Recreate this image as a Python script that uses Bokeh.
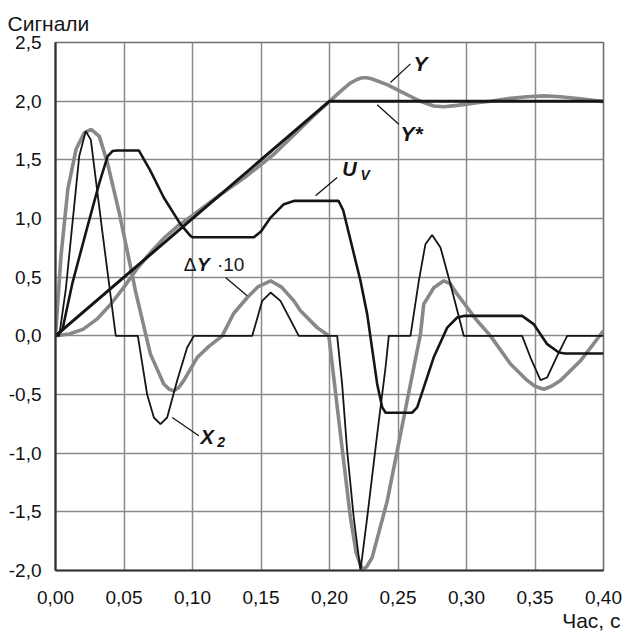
from bokeh.plotting import figure
from bokeh.models import Range1d, FixedTicker, Label, ColumnDataSource, Title
from bokeh.embed import file_html
from bokeh.resources import INLINE

# ---------------- data ----------------
x_ticks = [0.0, 0.05, 0.10, 0.15, 0.20, 0.25, 0.30, 0.35, 0.40]
x_tick_labels = ["0,00", "0,05", "0,10", "0,15", "0,20", "0,25", "0,30", "0,35", "0,40"]
y_ticks = [-2.0, -1.5, -1.0, -0.5, 0.0, 0.5, 1.0, 1.5, 2.0, 2.5]
y_tick_labels = ["-2,0", "-1,5", "-1,0", "-0,5", "0,0", "0,5", "1,0", "1,5", "2,0", "2,5"]

# reference signal Y*
t_ystar = [0.0, 0.2, 0.4]
v_ystar = [0.0, 2.0, 2.0]

# output Y
t_y = [0, 0.01, 0.02, 0.03, 0.04, 0.05, 0.06, 0.07, 0.08, 0.09, 0.10, 0.12, 0.14, 0.16,
       0.18, 0.19, 0.20, 0.208, 0.2153, 0.22, 0.2238, 0.2275, 0.2311, 0.2421, 0.2518, 0.2615,
       0.2664, 0.2761, 0.2834, 0.2932, 0.3078, 0.3175, 0.3321, 0.3443, 0.3564, 0.3686,
       0.3832, 0.40]
v_y = [0, 0.015, 0.055, 0.14, 0.265, 0.415, 0.58, 0.718, 0.842, 0.943, 1.026, 1.20, 1.367, 1.554,
       1.78, 1.893, 1.998, 2.084, 2.155, 2.185, 2.199, 2.2, 2.189, 2.141, 2.084, 2.027,
       1.999, 1.959, 1.953, 1.964, 1.987, 2.0, 2.024, 2.038, 2.045, 2.038,
       2.021, 1.996]

# error dY*10
t_dy = [0, 0.004, 0.009, 0.015, 0.021, 0.026, 0.032, 0.038, 0.0465, 0.056, 0.0584, 0.0693,
        0.079, 0.083, 0.0864, 0.09, 0.0937, 0.1034, 0.112, 0.1217, 0.13, 0.14, 0.148, 0.157,
        0.165, 0.174, 0.1788, 0.191, 0.1995, 0.208, 0.2153, 0.2195, 0.2238, 0.227, 0.2311,
        0.2421, 0.2518, 0.2615, 0.2664, 0.2688, 0.2761, 0.2834, 0.288, 0.2932, 0.3,
        0.3078, 0.3175, 0.3321, 0.3443, 0.35, 0.3564, 0.362, 0.3686, 0.3832, 0.40]
v_dy = [0, 0.68, 1.25, 1.59, 1.73, 1.76, 1.70, 1.47, 1.05, 0.52, 0.38, -0.156,
        -0.41, -0.455, -0.469, -0.44, -0.38, -0.185, -0.09, 0.0, 0.19, 0.327, 0.42, 0.469,
        0.415, 0.298, 0.213, 0.07, 0.0, -0.84, -1.55, -1.85, -1.99, -1.97, -1.89,
        -1.41, -0.84, -0.27, 0.014, 0.27, 0.41, 0.469, 0.445, 0.355, 0.25,
        0.128, 0.0, -0.24, -0.38, -0.43, -0.455, -0.43, -0.38, -0.213, 0.043]

# control U_V
t_uv = [0, 0.005, 0.0124, 0.0221, 0.0319, 0.038, 0.0416, 0.045, 0.0608, 0.0693, 0.079,
        0.0912, 0.0985, 0.1, 0.1448, 0.15, 0.157, 0.1667, 0.174, 0.2066, 0.21, 0.2226,
        0.2275, 0.2348, 0.2385, 0.241, 0.2604, 0.264, 0.276, 0.2859, 0.2932, 0.298,
        0.3406, 0.349, 0.3589, 0.3674, 0.372, 0.40]
v_uv = [0, 0.05, 0.452, 0.878, 1.30, 1.53, 1.575, 1.58, 1.58, 1.406, 1.179,
        0.952, 0.852, 0.84, 0.84, 0.89, 1.008, 1.122, 1.15, 1.15, 1.07, 0.469,
        0.185, -0.41, -0.61, -0.655, -0.655, -0.61, -0.185, 0.07, 0.156, 0.17,
        0.17, 0.1, -0.071, -0.142, -0.15, -0.15]

# X_2
t_x2 = [0, 0.0027, 0.0075, 0.0124, 0.0173, 0.0221, 0.0258, 0.0343, 0.044, 0.0601, 0.0669,
        0.0718, 0.0766, 0.0815, 0.0888, 0.0961, 0.101, 0.1436, 0.1509, 0.157, 0.1642,
        0.1776, 0.2056, 0.2092, 0.2129, 0.2177, 0.2226, 0.2275, 0.2348, 0.2409, 0.2433,
        0.2591, 0.2652, 0.27, 0.2749, 0.281, 0.2883, 0.298, 0.3406, 0.3467, 0.354,
        0.3589, 0.3662, 0.3735, 0.40]
v_x2 = [0, 0.0, 0.395, 0.963, 1.53, 1.745, 1.67, 0.878, 0.0, 0.0, -0.5,
        -0.696, -0.753, -0.696, -0.38, -0.1, 0.0, 0.0, 0.298, 0.369, 0.298,
        0.0, 0.0, -0.41, -0.98, -1.55, -2.0, -1.55, -0.84, -0.27, 0.0,
        0.0, 0.469, 0.78, 0.86, 0.753, 0.44, 0.0, 0.0, -0.185, -0.378,
        -0.355, -0.17, 0.0, 0.0]

# ---------------- figure ----------------
FONT = "Liberation Sans"
GRAY = "#888888"
BLACK = "#151515"

p = figure(width=625, height=634, output_backend="svg", toolbar_location=None,
           title=None,
           x_range=Range1d(0, 0.4), y_range=Range1d(-2.0, 2.5),
           min_border_left=55, min_border_right=22, min_border_top=42,
           min_border_bottom=64)
p.background_fill_color = "white"
p.border_fill_color = "white"
p.outline_line_color = "#6e6e6e"
p.outline_line_width = 1.6

p.xaxis.ticker = FixedTicker(ticks=x_ticks)
p.yaxis.ticker = FixedTicker(ticks=y_ticks)
p.xaxis.major_label_overrides = dict(zip(x_ticks, x_tick_labels))
p.yaxis.major_label_overrides = dict(zip(y_ticks, y_tick_labels))
for ax in (p.xaxis, p.yaxis):
    ax.major_tick_in = 0
    ax.major_tick_out = 0
    ax.minor_tick_in = 0
    ax.minor_tick_out = 0
    ax.axis_line_color = "#333333"
    ax.axis_line_width = 2.2
    ax.major_label_text_font = FONT
    ax.major_label_text_font_size = "19px"
    ax.major_label_text_color = "#111111"
p.xaxis.major_label_standoff = 20
p.yaxis.major_label_standoff = 14

p.xgrid.grid_line_color = "#8a8a8a"
p.ygrid.grid_line_color = "#8a8a8a"
p.xgrid.grid_line_width = 1.5
p.ygrid.grid_line_width = 1.5

# curves
p.line(t_y, v_y, line_color=GRAY, line_width=3.6)
p.line(t_dy, v_dy, line_color=GRAY, line_width=3.6)
p.line(t_ystar, v_ystar, line_color=BLACK, line_width=3.0)
p.line(t_uv, v_uv, line_color=BLACK, line_width=2.6)
p.line(t_x2, v_x2, line_color=BLACK, line_width=1.8)

# leader lines for curve names
lead = ColumnDataSource(dict(
    x0=[0.2591, 0.2348, 0.2056, 0.1241, 0.0852],
    y0=[2.318, 1.969, 1.349, 0.497, -0.696],
    x1=[0.2445, 0.2506, 0.1898, 0.1399, 0.1046],
    y1=[2.159, 1.804, 1.193, 0.341, -0.852],
))
p.segment("x0", "y0", "x1", "y1", source=lead, line_color=BLACK, line_width=1.3)

def lab(x, y, text, size="20px", style="bold italic", align="left"):
    p.add_layout(Label(x=x, y=y, text=text, text_font=FONT, text_font_size=size,
                       text_font_style=style, text_color=BLACK,
                       text_baseline="alphabetic", text_align=align))

lab(0.2613, 2.318, "Y", size="21px")
lab(0.2518, 1.722, "Y*", size="21px")
lab(0.2093, 1.419, "U", size="20px")
lab(0.2226, 1.375, "V", size="14px")
lab(0.0936, 0.608, "\u0394", size="19px", style="normal")
lab(0.1032, 0.608, "Y", size="19px")
lab(0.1178, 0.608, "\u00b710", size="19px", style="normal")
lab(0.1058, -0.863, "X", size="20px")
lab(0.1180, -0.902, "2", size="14px")

# axis captions
p.add_layout(Title(text="Сигнали", align="left", offset=-48, standoff=16,
                   text_font=FONT, text_font_size="21px", text_font_style="normal",
                   text_color=BLACK), "above")
p.add_layout(Title(text="Час, с", align="right", offset=-17, standoff=0,
                   text_font=FONT, text_font_size="21px", text_font_style="normal",
                   text_color=BLACK), "below")

open("out.html", "w").write(file_html(p, INLINE))
